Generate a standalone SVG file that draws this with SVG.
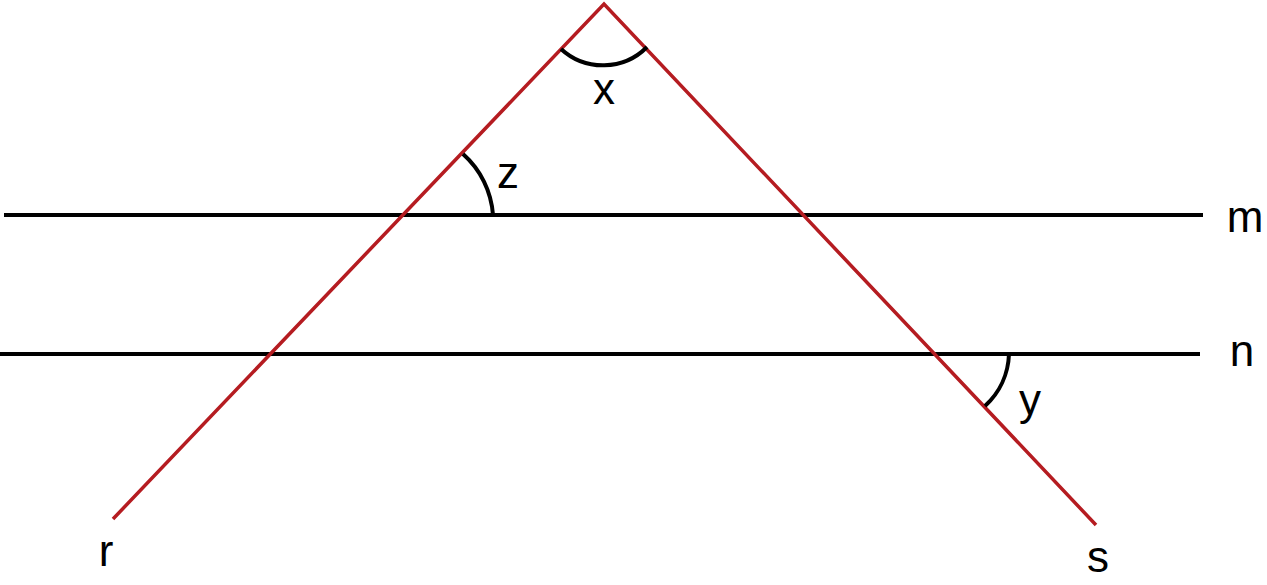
<svg xmlns="http://www.w3.org/2000/svg" width="1267" height="585" viewBox="0 0 1267 585">
<style>
.blk{stroke:#000;stroke-width:4;fill:none}
.red{stroke:#b51c21;stroke-width:3.5;fill:none}
.lbl{font-family:"Liberation Sans",Arial,sans-serif;font-size:44px;fill:#000}
</style>
<rect width="1267" height="585" fill="#fff"/>
<g id="lines">
<line id="m" class="blk" x1="4" y1="215" x2="1203" y2="215"/>
<line id="n" class="blk" x1="0" y1="354" x2="1200" y2="354"/>
<polyline id="rs" class="red" points="113,519 604,4 1096,525"/>
</g>
<g id="angles">
<path id="arc-x" class="blk" d="M561,49 A62,62 0 0 0 647,47"/>
<path id="arc-z" class="blk" d="M463,154 A90,90 0 0 1 493,215"/>
<path id="arc-y" class="blk" d="M1009,354 A74,74 0 0 1 985,406"/>
</g>
<g id="labels">
<text class="lbl" x="604" y="104" text-anchor="middle">x</text>
<text class="lbl" x="508" y="188" text-anchor="middle">z</text>
<text class="lbl" x="1030" y="415" text-anchor="middle">y</text>
<text class="lbl" x="1245" y="232" text-anchor="middle">m</text>
<text class="lbl" x="1242" y="366" text-anchor="middle">n</text>
<text class="lbl" x="106" y="566" text-anchor="middle">r</text>
<text class="lbl" x="1098" y="572" text-anchor="middle">s</text>
</g>
</svg>
